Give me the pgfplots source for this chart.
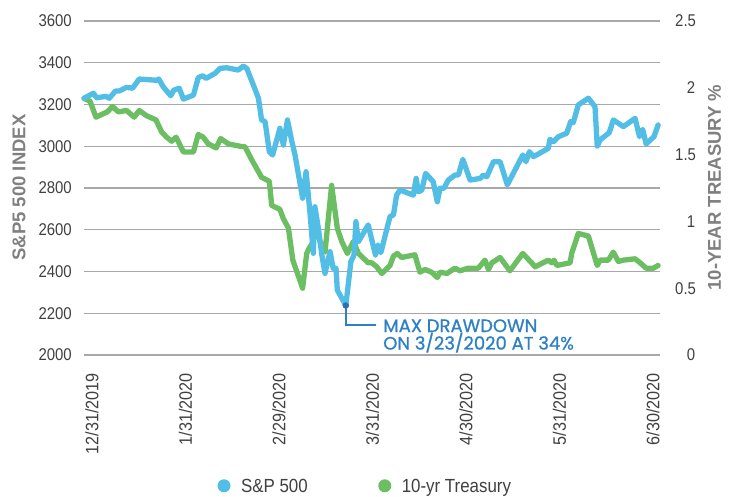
\documentclass[border=0pt]{standalone}
\usepackage{pgfplots}
\pgfplotsset{compat=1.18}
\usepackage{pgfplotstable}
\usepackage{fontspec}
\setmainfont{Liberation Sans}
\newfontfamily\ytickfont{Liberation Sans}[FakeStretch=0.88]
\newfontfamily\xtickfont{Liberation Sans}[FakeStretch=0.9]
\newfontfamily\legfont{Liberation Sans}[FakeStretch=0.89]
\newfontfamily\annfont{Poppins}[FakeStretch=1.0, FakeBold=0.9]

\definecolor{spxblue}{HTML}{52BEE6}
\definecolor{tsygreen}{HTML}{6CBE62}
\definecolor{gridgray}{HTML}{A8A8A8}
\definecolor{tickgray}{HTML}{404040}
\definecolor{labgray}{HTML}{808080}
\definecolor{annblue}{HTML}{2E80C4}
\definecolor{dotblue}{HTML}{2F6DB5}

\pgfplotstableread{
d v
0 3230
3 3254
4 3232
7 3239
8 3230
10 3265
11.2 3265
13.5 3282
15.4 3278
17.5 3322
23.0 3316
23.7 3322
25.1 3285
27.5 3242
28.5 3269
30.2 3278
31.5 3226
34.7 3245
36.2 3328
37.6 3338
38.7 3325
41.5 3349
43.1 3373
45.2 3376
48.9 3365
50.5 3384
51.6 3373
53.7 3293
55.3 3230
56.3 3126
57.4 3118
58.75 2974
59.8 2958
62.1 3086
63.2 3006
64.5 3126
65.9 3022
66.9 2958
69.3 2751
70.4 2878
71.7 2671
72.7 2487
73.2 2710
74.3 2607
75.4 2479
76.4 2391
78.0 2495
79.0 2415
79.9 2415
80.3 2311
83 2237
84.6 2447
85.6 2479
86.2 2639
87.0 2543
90.1 2623
92.4 2479
93.2 2527
94.1 2490
97.0 2663
98.1 2671
99.1 2766
100.2 2790
104.4 2766
105.3 2846
106.0 2782
107.1 2790
108.3 2870
110.7 2830
112.0 2734
112.9 2799
114.1 2799
115.5 2838
117.6 2862
118.7 2862
120.1 2937
122.4 2838
125.6 2846
126.6 2862
127.7 2854
129.8 2926
131.9 2926
134.2 2815
139.1 2958
140.1 2926
141.2 2974
142.5 2950
147.2 2990
147.7 3033
148.8 3022
150.4 3046
153.0 3062
154.3 3118
155.1 3113
156.7 3198
159.9 3230
162.0 3189
162.7 3001
163.6 3030
166.5 3065
167.8 3126
171.0 3094
174.7 3134
176.1 3046
177.1 3081
178.2 3011
180.7 3046
182 3102
}\spx

\pgfplotstableread{
d t
0 1.92
1.9 1.90
3.8 1.78
7.4 1.82
9.0 1.86
10.9 1.82
13.5 1.83
15.9 1.78
17.5 1.83
19.9 1.79
22.8 1.76
24.6 1.67
26.2 1.63
27.8 1.60
29.2 1.63
31.5 1.52
34.7 1.52
36.2 1.65
37.8 1.63
39.4 1.58
41.9 1.55
43.3 1.62
45.8 1.58
50.0 1.56
51.0 1.56
53.2 1.46
56.3 1.33
58.75 1.30
59.5 1.12
62.1 1.09
63.2 1.02
64.8 0.95
66.2 0.71
69.3 0.50
70.6 0.76
71.4 0.80
72.5 0.84
73.2 0.96
74.8 0.85
76.4 0.77
78.5 1.27
80.3 0.95
81.7 0.85
83.5 0.76
85.4 0.85
87.0 0.76
90.1 0.69
91.2 0.69
92.8 0.66
94.4 0.61
97.0 0.67
98.1 0.74
99.3 0.76
100.7 0.73
104.9 0.75
106.5 0.62
108.1 0.64
110.2 0.62
112.0 0.58
112.9 0.62
115.0 0.61
117.6 0.65
119.2 0.63
121.8 0.65
125.0 0.65
127.1 0.71
128.2 0.64
129.3 0.69
131.9 0.73
135.0 0.63
139.1 0.76
141.9 0.69
143.0 0.66
147.2 0.71
148.3 0.69
149.0 0.71
149.9 0.67
154.1 0.69
154.6 0.76
156.7 0.91
159.9 0.89
162.7 0.67
163.6 0.71
166.2 0.71
167.8 0.77
169.4 0.70
171.0 0.71
174.7 0.72
176.3 0.69
178.2 0.65
180.5 0.65
182 0.67
}\tsy

\pgfplotsset{
  base/.style={
    scale only axis, width=576pt, height=334pt,
    at={(84pt,142pt)}, anchor=south west,
    xmin=0, xmax=182.6,
    axis line style={draw=none}, tick style={draw=none},
    clip=false,
  },
}

\begin{document}
\begin{tikzpicture}
\path[use as bounding box] (0,0) rectangle (731pt,497pt);

% axis 1: grid, left ticks, x ticks, left label
\begin{axis}[base,
  ymin=2000, ymax=3600,
  ytick={2000,2200,...,3600},
  yticklabels={2000,2200,2400,2600,2800,3000,3200,3400,3600},
  ymajorgrids, major grid style={gridgray, line width=1.3pt},
  yticklabel style={font=\ytickfont\fontsize{17}{17}\selectfont, text=tickgray, anchor=east, inner sep=0pt, xshift=-12pt},
  xtick={2.5,32.15,61.8,91.45,121.1,150.75,180.4},
  xticklabels={12/31/2019,1/31/2020,2/29/2020,3/31/2020,4/30/2020,5/31/2020,6/30/2020},
  xticklabel style={font=\xtickfont\fontsize{18}{18}\selectfont, text=tickgray, yshift=-18pt, rotate=90, anchor=east, inner sep=0pt},
  ylabel={S\&P5 500 INDEX},
  every axis y label/.style={at={(axis description cs:-0.1128,0.5015)}, rotate=90, anchor=center, font=\bfseries\fontsize{18.5}{18.5}\selectfont, text=labgray},
]
\end{axis}

% axis 2: treasury, right axis
\begin{axis}[base,
  ymin=0, ymax=2.5,
  xtick=\empty,
  ytick={0,0.5,1,1.5,2,2.5},
  yticklabels={0,0.5,1,1.5,2,2.5},
  yticklabel pos=right,
  yticklabel style={font=\ytickfont\fontsize{17}{17}\selectfont, text=tickgray, anchor=west, text width=20pt, align=right, inner sep=0pt, xshift=15pt},
  ylabel={10-YEAR TREASURY \%},
  every axis y label/.style={at={(axis description cs:1.0946,0.5015)}, rotate=90, anchor=center, font=\bfseries\fontsize{18.5}{18.5}\selectfont, text=labgray},
]
\addplot[tsygreen, line width=5.3pt, line join=round, line cap=round] table[x=d, y=t] {\tsy};
\end{axis}

% axis 3: S&P 500, annotation, legend
\begin{axis}[base,
  ymin=2000, ymax=3600,
  xtick=\empty, ytick=\empty,
  legend columns=2,
  legend image code/.code={\fill[draw=none] (0pt,6.6pt) circle (6.5pt);},
  legend style={draw=none, fill=none, inner sep=0pt, outer sep=0pt,
    at={(axis description cs:0.2318,-0.3937)}, anchor=west,
    font=\legfont\fontsize{19}{19}\selectfont, text=tickgray,
    cells={anchor=base west},
    nodes={inner sep=0pt},
    /tikz/every odd column/.style={column sep=10.5pt},
    /tikz/every even column/.style={column sep=70.5pt}},
]
\addplot[spxblue, line width=5.3pt, line join=round, line cap=round] table[x=d, y=v] {\spx};
\addlegendentry{S\&P 500}
\addlegendimage{tsygreen}
\addlegendentry{10-yr Treasury}
\addplot[annblue, line width=2pt, forget plot] coordinates {(83,2237) (83,2144) (92.6,2144)};
\addplot[only marks, mark=*, mark size=3pt, dotblue, forget plot] coordinates {(83,2237)};
\node[anchor=base west, inner sep=0pt, text=annblue, font=\annfont\fontsize{18}{18}\selectfont] at (axis cs:94.8,2110) {MAX DRAWDOWN};
\node[anchor=base west, inner sep=0pt, text=annblue, font=\annfont\fontsize{18}{18}\selectfont] at (axis cs:94.8,2026) {ON 3/23/2020 AT 34\%};
\end{axis}
\end{tikzpicture}
\end{document}
